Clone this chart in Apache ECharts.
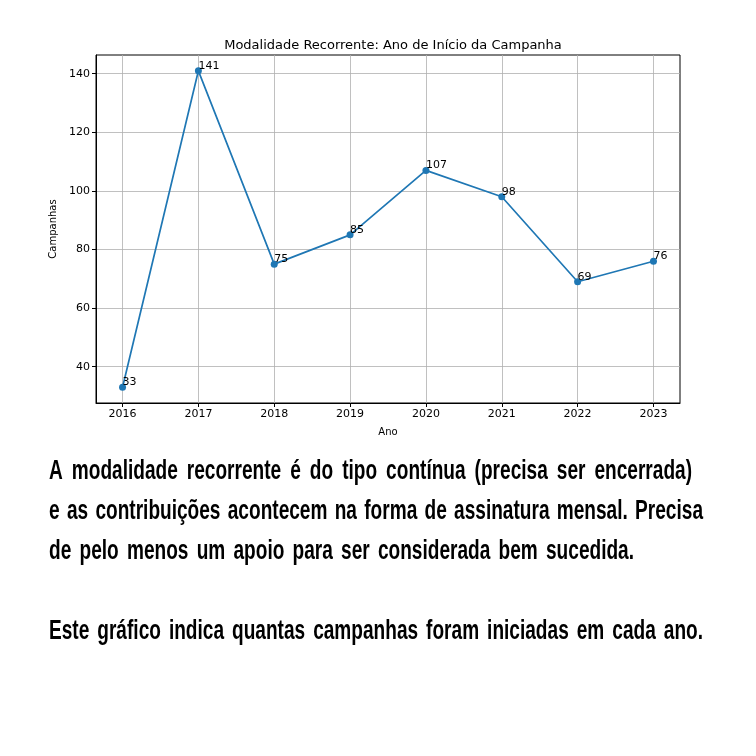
<!DOCTYPE html>
<html><head><meta charset="utf-8">
<script src="https://cdn.jsdelivr.net/npm/echarts@6/dist/echarts.min.js"></script>
<style>html,body{margin:0;padding:0;background:#fff}#c{width:756px;height:756px}#m{position:absolute;left:-9999px;top:0;white-space:pre;visibility:hidden}</style>
</head><body><div id="c"></div><span id="m"></span>
<script>
const years = [2016, 2017, 2018, 2019, 2020, 2021, 2022, 2023];
const campaigns = [33, 141, 75, 85, 107, 98, 69, 76];
const yTicks = [40, 60, 80, 100, 120, 140];
const titleText = 'Modalidade Recorrente: Ano de Início da Campanha';
const xName = 'Ano';
const yName = 'Campanhas';
const paragraphLines = [
  'A modalidade recorrente é do tipo contínua (precisa ser encerrada)',
  'e as contribuições acontecem na forma de assinatura mensal. Precisa',
  'de pelo menos um apoio para ser considerada bem sucedida.',
  'Este gráfico indica quantas campanhas foram iniciadas em cada ano.'
];

// layout (not data)
const lineLayout = [
  {y: 472, right: 692},
  {y: 512, right: 703},
  {y: 552, right: 634},
  {y: 632, right: 703}
];
const textLeft = 49;
const bodyFamily = '"Liberation Sans", Arial, sans-serif';
const bodySize = 27;
const bodyWeight = 'bold';

const chart = echarts.init(document.getElementById('c'), null, {renderer: 'canvas'});

const meas = document.getElementById('m');
meas.style.fontFamily = bodyFamily;
meas.style.fontSize = bodySize + 'px';
meas.style.fontWeight = bodyWeight;
function measure(t) { meas.textContent = t; return meas.getBoundingClientRect().width; }
const sx = 106 / measure('modalidade');

const graphics = [];
paragraphLines.forEach((line, i) => {
  const words = line.split(' ');
  const widths = words.map(w => measure(w) * sx);
  const total = widths.reduce((a, b) => a + b, 0);
  const gap = (lineLayout[i].right - textLeft - total) / (words.length - 1);
  let x = textLeft;
  words.forEach((w, j) => {
    graphics.push({
      type: 'text', x: x, y: lineLayout[i].y, scaleX: sx, scaleY: 1,
      style: {text: w, fontFamily: bodyFamily, fontSize: bodySize, fontWeight: bodyWeight, fill: '#000', textAlign: 'left', textVerticalAlign: 'middle'}
    });
    x += widths[j] + gap;
  });
});

const dataMin = Math.min(...campaigns), dataMax = Math.max(...campaigns);
const yPad = (dataMax - dataMin) * 0.05;
const xPad = (years[years.length - 1] - years[0]) * 0.05;

const axisFont = {fontFamily: 'DejaVu Sans', fontSize: 11, color: '#000'};

chart.setOption({
  animation: false,
  backgroundColor: '#fff',
  title: {
    text: titleText, left: 388, top: 34, textAlign: 'center',
    textStyle: {fontFamily: 'DejaVu Sans', fontSize: 13, fontWeight: 'normal', color: '#000'}
  },
  grid: {left: 96, right: 76, top: 55, bottom: 353, show: true, borderColor: '#000', borderWidth: 1, backgroundColor: 'transparent'},
  xAxis: {
    type: 'value',
    min: years[0] - xPad, max: years[years.length - 1] + xPad,
    name: xName, nameLocation: 'middle', nameGap: 24,
    nameTextStyle: {fontFamily: 'DejaVu Sans', fontSize: 10, color: '#000'},
    axisLine: {show: true, lineStyle: {color: '#000', width: 1}},
    axisTick: {show: true, inside: false, length: 4, lineStyle: {color: '#000'}, customValues: years},
    axisLabel: Object.assign({customValues: years, margin: 6, formatter: v => String(v)}, axisFont),
    splitLine: {show: true, lineStyle: {color: '#b0b0b0', width: 0.8}}
  },
  yAxis: {
    type: 'value',
    min: dataMin - yPad, max: dataMax + yPad,
    name: yName, nameLocation: 'middle', nameGap: 35, nameRotate: 90,
    nameTextStyle: {fontFamily: 'DejaVu Sans', fontSize: 10, color: '#000'},
    axisLine: {show: true, lineStyle: {color: '#000', width: 1}},
    axisTick: {show: true, inside: false, length: 4, lineStyle: {color: '#000'}, customValues: yTicks},
    axisLabel: Object.assign({customValues: yTicks, margin: 6}, axisFont),
    splitLine: {show: true, lineStyle: {color: '#b0b0b0', width: 0.8}}
  },
  series: [{
    type: 'line',
    data: years.map((y, i) => [y, campaigns[i]]),
    symbol: 'circle', symbolSize: 7,
    lineStyle: {color: '#1f77b4', width: 1.7},
    itemStyle: {color: '#1f77b4'},
    label: {
      show: true, position: [3.5, 4], align: 'left', verticalAlign: 'bottom',
      fontFamily: 'DejaVu Sans', fontSize: 11, color: '#000',
      formatter: p => String(p.value[1])
    }
  }],
  graphic: graphics
});
</script></body></html>
